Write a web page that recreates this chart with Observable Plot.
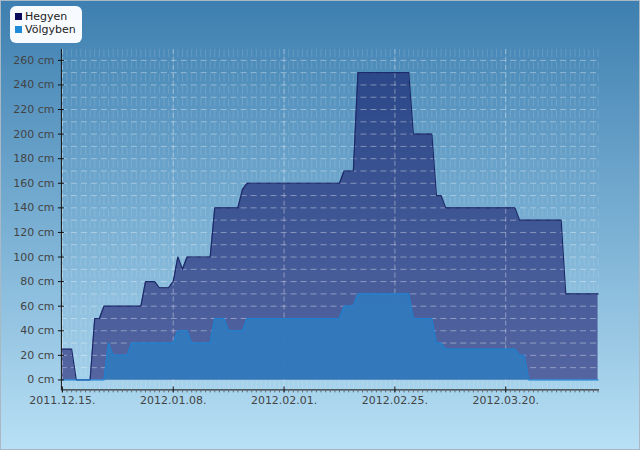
<!DOCTYPE html>
<html>
<head>
<meta charset="utf-8">
<script src="https://cdn.jsdelivr.net/npm/d3@7"></script>
<script src="https://cdn.jsdelivr.net/npm/@observablehq/plot@0.6"></script>
<style>
html, body { margin: 0; padding: 0; }
#wrap {
  position: relative; width: 640px; height: 450px; box-sizing: border-box;
  border: 1px solid #a8b8c4; overflow: hidden;
  background: linear-gradient(to bottom, #3d7fb0 0%, #79afd3 50%, #b8e0f5 100%);
}
#chart { position: absolute; left: -1px; top: -1px; }
#legend {
  position: absolute; left: 9px; top: 5px; width: 72px; height: 37px;
  background: #f7fbff; border-radius: 6px;
  font: 11px "DejaVu Sans", sans-serif; color: #222;
}
#legend .item { position: absolute; left: 5px; white-space: nowrap; }
#legend .sw { display: inline-block; width: 7px; height: 7px; margin-right: 3px; vertical-align: 0px; }
</style>
</head>
<body>
<div id="wrap">
  <div id="chart"></div>
  <div id="legend"></div>
</div>
<script>
// ---- data ----
const startDate = "2011-12-15";
const seriesNames = ["Hegyen", "Völgyben"];
const seriesColors = ["#0c0c5c", "#1e8bd8"];
// daily snow depth (cm), starting 2011-12-15
const hegyen = [
  25,25,25,0,0,0,0,50,50,60,
  60,60,60,60,60,60,60,60,80,80,
  80,75,75,75,80,100,90,100,100,100,
  100,100,100,140,140,140,140,140,140,155,
  160,160,160,160,160,160,160,160,160,160,
  160,160,160,160,160,160,160,160,160,160,
  160,170,170,170,250,250,250,250,250,250,
  250,250,250,250,250,250,200,200,200,200,
  200,150,150,140,140,140,140,140,140,140,
  140,140,140,140,140,140,140,140,140,130,
  130,130,130,130,130,130,130,130,130,70,
  70,70,70,70,70,70,70
];
const volgyben = [
  0,0,0,0,0,0,0,0,0,0,
  30,20,20,20,20,30,30,30,30,30,
  30,30,30,30,30,40,40,40,30,30,
  30,30,30,50,50,50,40,40,40,40,
  50,50,50,50,50,50,50,50,50,50,
  50,50,50,50,50,50,50,50,50,50,
  50,60,60,60,70,70,70,70,70,70,
  70,70,70,70,70,70,50,50,50,50,
  50,30,30,25,25,25,25,25,25,25,
  25,25,25,25,25,25,25,25,25,20,
  20,0,0,0,0,0,0,0,0,0,
  0,0,0,0,0,0,0
];
const xTickLabels = ["2011.12.15.", "2012.01.08.", "2012.02.01.", "2012.02.25.", "2012.03.20."];
const yTicks = [0,20,40,60,80,100,120,140,160,180,200,220,240,260];
const yGrid = [10,20,30,40,50,60,70,80,90,100,110,120,130,140,150,160,170,180,190,200,210,220,230,240,250,260];

// ---- build ----
const t0 = d3.utcParse("%Y-%m-%d")(startDate);
const rows = hegyen.map((h, i) => ({ date: d3.utcDay.offset(t0, i), hegyen: h, volgyben: volgyben[i] }));
const days = rows.map(r => r.date);
const parseTick = d3.utcParse("%Y.%m.%d.");
const tickDates = xTickLabels.map(parseTick);
const DAY = 864e5;
const xDomain = [new Date(+t0 - 0.216 * DAY), new Date(+t0 + 116.32 * DAY)];
const yDomain = [-8.1, 268.9];

const chart = Plot.plot({
  width: 640, height: 450,
  marginLeft: 61, marginRight: 40, marginTop: 49, marginBottom: 60,
  style: { background: "transparent", fontFamily: "DejaVu Sans, sans-serif", fontSize: "11px", overflow: "visible" },
  x: { type: "utc", domain: xDomain, label: null },
  y: { domain: yDomain, label: null },
  marks: [
    // faint daily vertical texture
    Plot.ruleX(days, { stroke: "white", strokeOpacity: 0.14, strokeDasharray: "8,4.3" }),
    // dark area
    Plot.areaY(rows, { x: "date", y: "hegyen", fill: "url(#gH)" }),
    // grid over dark area
    Plot.ruleY(yGrid, { stroke: "white", strokeOpacity: 0.38, strokeDasharray: "6,4" }),
    Plot.ruleX(tickDates, { stroke: "white", strokeOpacity: 0.38, strokeDasharray: "5,3" }),
    Plot.lineY(rows, { x: "date", y: "hegyen", stroke: "#1c2a6a", strokeWidth: 1.2 }),
    // light area
    Plot.areaY(rows, { x: "date", y: "volgyben", fill: "#3279bb", fillOpacity: 0.96 }),
    Plot.lineY(rows, { x: "date", y: "volgyben", stroke: "#1f80cf", strokeWidth: 1.2 }),
    // axes
    Plot.ruleX([xDomain[0]], { stroke: "#111" }),
    Plot.ruleY([yDomain[0]], { stroke: "#111" }),
    Plot.axisX({ ticks: days, tickSize: 3, tickFormat: () => "", stroke: "#666", label: null }),
    Plot.axisX({ ticks: tickDates, tickFormat: d3.utcFormat("%Y.%m.%d."), tickSize: 6, insetBottom: 3, tickPadding: 3, stroke: "#111", fill: "#444", label: null }),
    Plot.axisY({ ticks: yTicks, tickFormat: d => d + " cm", tickSize: 6, insetLeft: 3, tickPadding: 4, stroke: "#111", fill: "#444", label: null })
  ]
});
chart.insertAdjacentHTML("afterbegin",
  '<defs><linearGradient id="gH" gradientUnits="userSpaceOnUse" x1="0" y1="60" x2="0" y2="380">' +
  '<stop offset="0" stop-color="#2a4788"/><stop offset="1" stop-color="#5465a1"/></linearGradient></defs>');
document.getElementById("chart").appendChild(chart);

// legend
const legend = document.getElementById("legend");
seriesNames.forEach((name, i) => {
  const item = document.createElement("div");
  item.className = "item";
  item.style.top = (4 + i * 13) + "px";
  item.innerHTML = `<span class="sw" style="background:${seriesColors[i]}"></span>${name}`;
  legend.appendChild(item);
});
</script>
</body>
</html>
